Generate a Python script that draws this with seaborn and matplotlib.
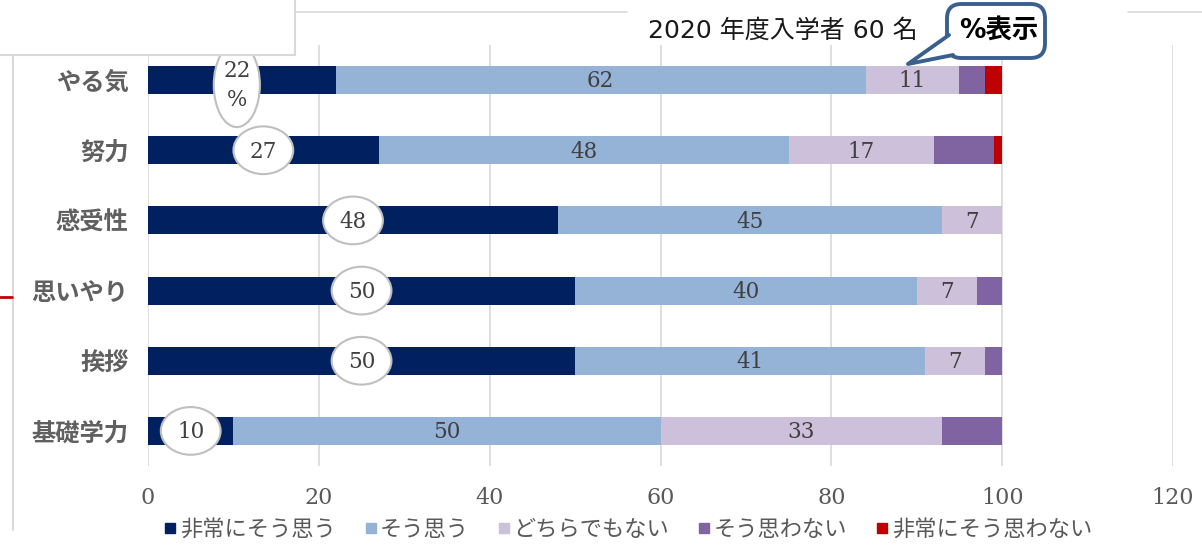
import numpy as np
import pandas as pd
import matplotlib
matplotlib.use('Agg')
import matplotlib.pyplot as plt
import seaborn as sns
from matplotlib.patches import Ellipse, Rectangle, FancyBboxPatch, Polygon
from matplotlib.lines import Line2D

# ── データ ──
categories = ['やる気', '努力', '感受性', '思いやり', '挨拶', '基礎学力']
series_names = ['非常にそう思う', 'そう思う', 'どちらでもない', 'そう思わない', '非常にそう思わない']
strongly_agree = [22, 27, 48, 50, 50, 10]
agree = [62, 48, 45, 40, 41, 50]
neutral = [11, 17, 7, 7, 7, 33]
disagree = [3, 7, 0, 3, 2, 7]
strongly_disagree = [2, 1, 0, 0, 0, 0]
x_ticks = [0, 20, 40, 60, 80, 100, 120]
title_text = '2020 年度入学者 60 名'
callout_text = '%表示'

colors = ['#002060', '#95B3D7', '#CCC0DA', '#8064A2', '#C00000']

df = pd.DataFrame({'category': categories,
                   series_names[0]: strongly_agree,
                   series_names[1]: agree,
                   series_names[2]: neutral,
                   series_names[3]: disagree,
                   series_names[4]: strongly_disagree})
cum = df[series_names].cumsum(axis=1)

sns.set_theme(style='white')
plt.rcParams['font.family'] = ['DejaVu Sans', 'Noto Sans CJK JP']

W, H = 1202, 558
fig = plt.figure(figsize=(W / 100, H / 100), dpi=100)
fx = lambda px: px / W
fy = lambda py: 1 - py / H
ax = fig.add_axes([fx(148), fy(466), fx(1173) - fx(148), fy(45) - fy(466)])

# ── 積み上げ棒（外側から順に重ねる） ──
for name, c in reversed(list(zip(series_names, colors))):
    sns.barplot(x=cum[name], y=df['category'], orient='h', color=c,
                saturation=1, width=0.4, errorbar=None, linewidth=0, ax=ax)

ax.set_xlim(0, 120)
ax.set_ylim(5.5, -0.5)
ax.set_xticks(x_ticks)
ax.set_xlabel('')
ax.set_ylabel('')
ax.grid(axis='x', color='#D9D9D9', lw=1.2)
ax.set_axisbelow(True)
for s in ax.spines.values():
    s.set_visible(False)
ax.tick_params(axis='x', length=0, pad=15, labelsize=16, colors='#595959')
ax.tick_params(axis='y', length=0, pad=14)
for lab in ax.get_xticklabels():
    lab.set_fontfamily('DejaVu Serif')
for lab in ax.get_yticklabels():
    lab.set_fontfamily('Noto Sans CJK JP')
    lab.set_fontsize(17.5)
    lab.set_fontweight('bold')
    lab.set_color('#606060')

# ── データラベル ──
serif = dict(fontfamily='DejaVu Serif', fontsize=15.5, color='#404040',
             ha='center', va='center')
for i in range(len(categories)):
    for k in (1, 2):
        v = df[series_names[k]][i]
        if v > 0:
            left = cum[series_names[k - 1]][i]
            ax.text(left + v / 2, i + 0.02, str(v), **serif)
    v = strongly_agree[i]
    if i == 0:
        ax.add_patch(Ellipse((v / 2 - 0.6, i + 0.07), 5.4, 1.2, fc='white',
                             ec='#BFBFBF', lw=1.5, zorder=5))
        ax.text(v / 2 - 0.6, i + 0.08, f'{v}\n%', zorder=6, linespacing=1.4, **serif)
    else:
        ax.add_patch(Ellipse((v / 2, i), 7.0, 0.68, fc='white',
                             ec='#BFBFBF', lw=1.5, zorder=5))
        ax.text(v / 2, i + 0.02, str(v), zorder=6, **serif)

# ── 凡例 ──
handles = [Line2D([], [], marker='s', ls='', color=c, markersize=7) for c in colors]
fig.legend(handles, series_names, loc='center', bbox_to_anchor=(fx(627), fy(529)),
           ncol=5, frameon=False, handletextpad=0.05, columnspacing=1.2,
           handlelength=0.75, prop={'family': 'Noto Sans CJK JP', 'size': 16},
           labelcolor='#595959')

# ── 枠・装飾 ──
fig.add_artist(Line2D([fx(295), fx(627)], [fy(12), fy(12)], color='#D9D9D9', lw=1.2))
fig.add_artist(Line2D([fx(1128), fx(1202)], [fy(12), fy(12)], color='#D9D9D9', lw=1.2))
fig.add_artist(Line2D([fx(13), fx(13)], [fy(55), fy(530)], color='#D9D9D9', lw=1.5))
fig.add_artist(Line2D([fx(0), fx(12)], [fy(297), fy(297)], color='#C00000', lw=2))
fig.add_artist(Rectangle((fx(-5), fy(55)), fx(300), fy(-5) - fy(55), fc='white',
                         ec='#D9D9D9', lw=1.5, transform=fig.transFigure))

fig.text(fx(648), fy(31), title_text, ha='left', va='center', fontsize=18,
         color='#1a1a1a', family=['DejaVu Sans', 'Noto Sans CJK JP'])

# 吹き出し
blue = '#3A5F8F'
fig.add_artist(FancyBboxPatch((fx(947), fy(58)), fx(1045) - fx(947), fy(4) - fy(58),
                              boxstyle='round,pad=0,rounding_size=0.012',
                              fc='white', ec=blue, lw=2.8, transform=fig.transFigure,
                              mutation_aspect=W / H))
tip = (fx(908), fy(64))
b1 = (fx(949), fy(35))
b2 = (fx(953), fy(55))
fig.add_artist(Polygon([b1, tip, b2, (fx(953), fy(35))], closed=True, fc='white',
                       ec='none', transform=fig.transFigure))
fig.add_artist(Line2D([b1[0], tip[0], b2[0]], [b1[1], tip[1], b2[1]], color=blue,
                      lw=2.8, solid_joinstyle='round'))
fig.text(fx(999), fy(31), callout_text, ha='center', va='center', fontsize=19,
         fontweight='bold', color='black', family=['DejaVu Sans', 'Noto Sans CJK JP'])

fig.savefig('out.png', dpi=100)
